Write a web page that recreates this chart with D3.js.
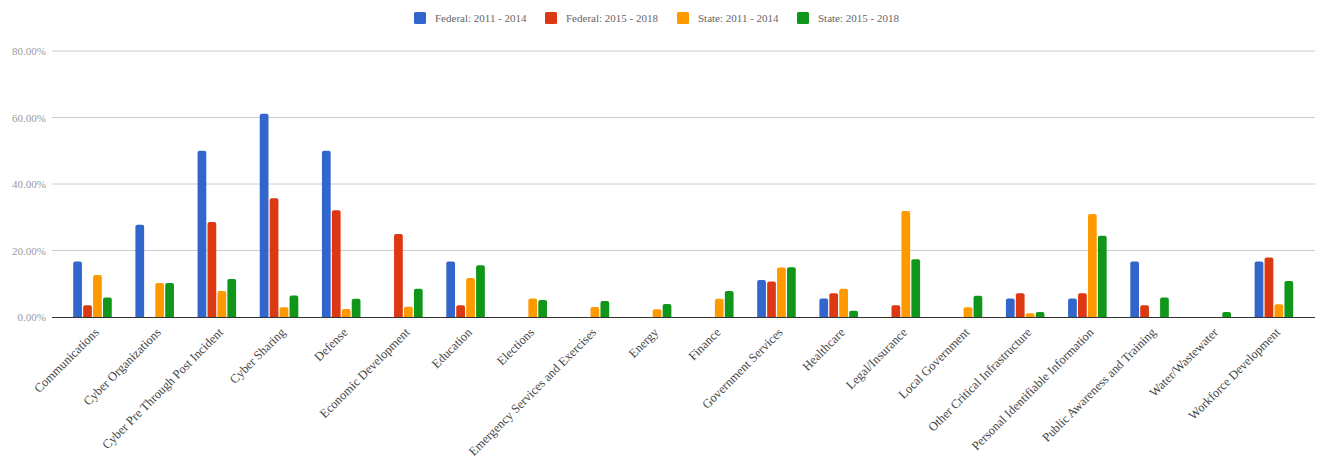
<!DOCTYPE html>
<html>
<head>
<meta charset="utf-8">
<script src="https://cdn.jsdelivr.net/npm/d3@7"></script>
<style>
  html, body { margin: 0; padding: 0; background: #fff; }
  svg { display: block; }
</style>
</head>
<body>
<svg id="chart" width="1325" height="464"></svg>
<script>
const categories = ["Communications","Cyber Organizations","Cyber Pre Through Post Incident","Cyber Sharing","Defense","Economic Development","Education","Elections","Emergency Services and Exercises","Energy","Finance","Government Services","Healthcare","Legal/Insurance","Local Government","Other Critical Infrastructure","Personal Identifiable Information","Public Awareness and Training","Water/Wastewater","Workforce Development"];
const seriesNames = ["Federal: 2011 - 2014","Federal: 2015 - 2018","State: 2011 - 2014","State: 2015 - 2018"];
const federal2011 = [16.67, 27.78, 50, 61.11, 50, 0, 16.67, 0, 0, 0, 0, 11.11, 5.56, 0, 0, 5.56, 5.56, 16.67, 0, 16.67];
const federal2015 = [3.57, 0, 28.57, 35.71, 32.14, 25, 3.57, 0, 0, 0, 0, 10.71, 7.14, 3.57, 0, 7.14, 7.14, 3.57, 0, 17.86];
const state2011 = [12.6, 10.2, 7.8, 2.9, 2.4, 3.1, 11.7, 5.6, 3.0, 2.3, 5.5, 14.9, 8.5, 31.9, 2.9, 1.1, 31.0, 0, 0, 3.8];
const state2015 = [5.9, 10.2, 11.4, 6.5, 5.5, 8.5, 15.6, 5.1, 4.8, 3.9, 7.8, 15.0, 1.9, 17.4, 6.4, 1.5, 24.4, 5.9, 1.5, 10.8];
const yTicks = [0, 20, 40, 60, 80];
const colors = ["#3366cc", "#dc3912", "#ff9900", "#109618"];

const seriesValues = [federal2011, federal2015, state2011, state2015];
const rows = categories.map((c, i) => ({
  category: c,
  values: seriesNames.map((s, k) => ({ series: s, value: seriesValues[k][i] }))
}));

const svg = d3.select("#chart");
const font = "'Liberation Serif', 'DejaVu Serif', serif";

const gridLeft = 52, gridRight = 1315;
const x0 = d3.scaleBand().domain(categories).range([61.4, 1305]).paddingInner(0.38).paddingOuter(0.19);
const x1 = d3.scaleBand().domain(seriesNames).range([0, x0.bandwidth()]).paddingInner(0.12);
const y = d3.scaleLinear().domain([0, 80]).range([317, 51]);
const color = d3.scaleOrdinal().domain(seriesNames).range(colors);

// gridlines
svg.append("g").selectAll("line").data(yTicks.filter(t => t > 0)).join("line")
  .attr("x1", gridLeft).attr("x2", gridRight)
  .attr("y1", d => y(d)).attr("y2", d => y(d))
  .attr("stroke", "#cccccc").attr("stroke-width", 1);

// y axis labels
const yAxis = d3.axisLeft(y).tickValues(yTicks).tickSize(0).tickPadding(0)
  .tickFormat(d => d3.format(".2f")(d) + "%");
const yg = svg.append("g").attr("transform", `translate(46,0)`).call(yAxis);
yg.select(".domain").remove();
yg.selectAll("text").attr("font-family", font).attr("font-size", 11).attr("fill", "#999");

// bars with rounded top
function barPath(x, yTop, w, yBase) {
  const h = yBase - yTop;
  if (h <= 0) return "";
  const r = Math.min(2, w / 2, h);
  return `M${x},${yBase}V${yTop + r}Q${x},${yTop} ${x + r},${yTop}H${x + w - r}Q${x + w},${yTop} ${x + w},${yTop + r}V${yBase}Z`;
}
const groups = svg.append("g").selectAll("g").data(rows).join("g")
  .attr("transform", d => `translate(${x0(d.category)},0)`);
groups.selectAll("path").data(d => d.values).join("path")
  .attr("d", d => barPath(x1(d.series), y(d.value), x1.bandwidth(), y(0)))
  .attr("fill", d => color(d.series));

// baseline
svg.append("line").attr("x1", gridLeft).attr("x2", gridRight)
  .attr("y1", y(0) + 0.5).attr("y2", y(0) + 0.5)
  .attr("stroke", "#333").attr("stroke-width", 1);

// x axis labels
const xAxis = d3.axisBottom(x0).tickSize(0).tickPadding(0);
const xg = svg.append("g").attr("transform", `translate(0,${y(0)})`).call(xAxis);
xg.select(".domain").remove();
xg.selectAll("text")
  .attr("font-family", font).attr("font-size", 12.5).attr("fill", "#444")
  .attr("text-anchor", "end")
  .attr("transform", "translate(4,13) rotate(-45)")
  .attr("dy", "0.35em").attr("y", 0).attr("x", 0);

// legend
const legendX = [414, 545, 677, 797];
const leg = svg.append("g").selectAll("g").data(seriesNames).join("g")
  .attr("transform", (d, i) => `translate(${legendX[i]},12)`);
leg.append("rect").attr("width", 12).attr("height", 12).attr("rx", 1.5).attr("fill", d => color(d));
leg.append("text").attr("x", 21).attr("y", 6).attr("dy", "0.35em")
  .attr("font-family", font).attr("font-size", 11).attr("fill", "#666").text(d => d);
</script>
</body>
</html>
